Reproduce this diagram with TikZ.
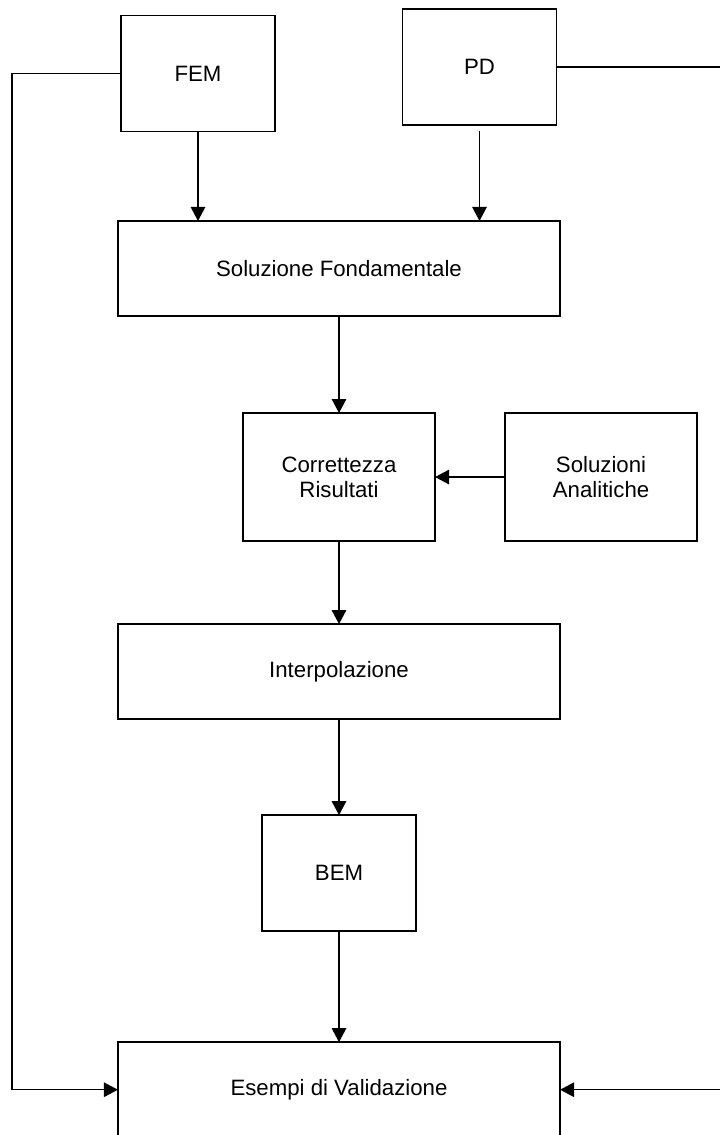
\documentclass[tikz,border=0pt]{standalone}
\usepackage{fontspec}
\setmainfont{Liberation Sans}
\usetikzlibrary{arrows.meta,positioning}

\begin{document}
\begin{tikzpicture}[x=0.025cm,y=-0.025cm,>={Triangle[length=0.35cm,width=0.36cm]},line width=1.1pt]
        \tikzset{block/.style= {draw, rectangle, align=center, inner sep=2pt, outer sep=0pt, font=\fontsize{15.8}{17.8}\selectfont},
        smallblock/.style={block, minimum width=3.85cm, minimum height=2.9cm},
        wideblock/.style={block, minimum width=11.05cm, minimum height=2.375cm},
        midblock/.style={block, minimum width=4.8cm, minimum height=3.2cm}
        }
        \clip (0,0) rectangle (720,1135);
        \node [smallblock] (FEM) at (198,73.5) {FEM};
        \node [smallblock] (PD) at (479.5,67) {PD};
        \node [wideblock] (Sol) at (339,268.5) {Soluzione Fondamentale};
        \node [midblock, below=2.425cm of Sol] (Corr) {Correttezza\\Risultati};
        \node [midblock, right=1.75cm of Corr] (Anal) {Soluzioni\\Analitiche};
        \node [wideblock, below=2.075cm of Corr] (Interp) {Interpolazione};
        \node [smallblock, below=2.4cm of Interp] (BEM) {BEM};
        \node [wideblock, below=2.775cm of BEM] (Esempi) {Esempi di Validazione};
        \node [coordinate] (left) at (12,500) {};  %% left side line
        \node [coordinate] (right) at (721,500) {};  %% right side line, on the edge

%% paths
        \path[draw,->] (FEM.south) edge (FEM.south |- Sol.north)
                    ([yshift=-0.15cm]PD.south) edge (PD.south |- Sol.north)
                    (Sol) edge (Corr)
                    (Anal) edge (Corr)
                    (Corr) edge (Interp)
                    (Interp) edge (BEM)
                    (BEM) edge (Esempi)
                    (FEM.west) -| (left) |- (Esempi.west)
                    ;
        \path[draw,->] (PD.east) -| (right) |- (Esempi.east);
    \end{tikzpicture}
\end{document}
